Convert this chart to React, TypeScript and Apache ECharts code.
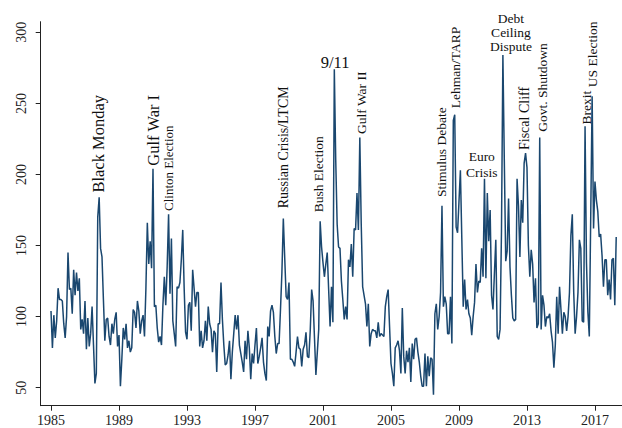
import React, { useEffect, useRef } from "react";
import * as echarts from "echarts";

// Monthly index values, January to December
const v1985 = [104, 78, 101, 85, 97, 120, 112, 112, 111, 95, 85, 100];
const v1986 = [145, 119, 120, 102, 133, 115, 131, 118, 127, 91, 98, 88];
const v1987 = [111, 77, 99, 79, 88, 107, 80, 53, 60, 170, 184, 148];
const v1988 = [142, 112, 83, 98, 99, 86, 80, 95, 88, 98, 103, 79];
const v1989 = [87, 51, 70, 92, 84, 95, 78, 83, 75, 78, 105, 103];
const v1990 = [92, 111, 104, 88, 97, 101, 86, 120, 166, 137, 153, 134];
const v1991 = [204, 107, 108, 92, 82, 86, 80, 108, 128, 108, 135, 172];
const v1992 = [116, 155, 97, 88, 79, 121, 120, 124, 140, 161, 120, 89];
const v1993 = [84, 108, 110, 90, 133, 120, 107, 117, 117, 79, 90, 78];
const v1994 = [83, 97, 83, 107, 95, 91, 75, 90, 88, 61, 95, 95];
const v1995 = [124, 98, 80, 66, 67, 73, 83, 56, 75, 88, 101, 91];
const v1996 = [101, 80, 74, 68, 61, 83, 70, 90, 78, 56, 74, 67];
const v1997 = [80, 92, 67, 72, 78, 85, 68, 60, 55, 93, 86, 104];
const v1998 = [108, 103, 86, 74, 81, 81, 105, 131, 169, 141, 114, 112];
const v1999 = [124, 70, 70, 68, 65, 75, 86, 78, 77, 65, 77, 80];
const v2000 = [89, 72, 71, 90, 119, 111, 85, 59, 75, 91, 167, 149];
const v2001 = [138, 128, 137, 145, 119, 93, 121, 96, 274, 210, 165, 149];
const v2002 = [148, 125, 112, 98, 107, 98, 140, 135, 151, 128, 162, 161];
const v2003 = [187, 161, 226, 165, 121, 115, 109, 93, 109, 79, 88, 91];
const v2004 = [90, 90, 85, 96, 86, 88, 87, 86, 107, 114, 119, 93];
const v2005 = [67, 60, 51, 78, 80, 83, 76, 60, 106, 72, 60, 76];
const v2006 = [68, 78, 54, 81, 70, 84, 85, 75, 68, 58, 51, 51];
const v2007 = [74, 51, 72, 58, 71, 70, 45, 102, 109, 91, 100, 117];
const v2008 = [178, 107, 114, 109, 88, 88, 114, 81, 238, 242, 163, 159];
const v2009 = [181, 203, 155, 107, 126, 105, 112, 102, 99, 87, 100, 110];
const v2010 = [137, 117, 125, 124, 148, 128, 197, 127, 187, 153, 175, 115];
const v2011 = [105, 130, 154, 86, 84, 91, 160, 284, 210, 139, 146, 183];
const v2012 = [135, 115, 99, 97, 98, 197, 178, 142, 182, 166, 208, 215];
const v2013 = [205, 150, 128, 147, 137, 110, 127, 92, 95, 226, 91, 115];
const v2014 = [108, 93, 100, 99, 102, 90, 82, 64, 80, 114, 88, 121];
const v2015 = [105, 88, 103, 100, 90, 100, 117, 157, 172, 117, 88, 100];
const v2016 = [117, 154, 148, 97, 96, 234, 138, 103, 86, 170, 255, 162];
const v2017 = [195, 182, 174, 156, 158, 143, 121, 140, 140, 115, 126, 112];
const v2018 = [140, 141, 108, 156];

const yearlyValues = [
  v1985, v1986, v1987, v1988, v1989, v1990, v1991, v1992, v1993, v1994,
  v1995, v1996, v1997, v1998, v1999, v2000, v2001, v2002, v2003, v2004,
  v2005, v2006, v2007, v2008, v2009, v2010, v2011, v2012, v2013, v2014,
  v2015, v2016, v2017, v2018,
];
const firstYear = 1985;

const xTickYears = [1985, 1989, 1993, 1997, 2001, 2005, 2009, 2013, 2017];
const yTickValues = [50, 100, 150, 200, 250, 300];

// Event annotations: text, anchor (year, index level), vertical or not, font size
const eventTexts = [
  "Black Monday", "Gulf War I", "Clinton Election", "Russian Crisis/LTCM",
  "Bush Election", "9/11", "Gulf War II", "Stimulus Debate", "Lehman/TARP",
  "Euro\nCrisis", "Debt\nCeiling\nDispute", "Fiscal Cliff", "Govt. Shutdown",
  "Brexit", "US Election",
];
const eventYears = [
  1987.82, 1991.02, 1991.9, 1998.66, 2000.72, 2001.71, 2003.24, 2007.98,
  2008.8, 2010.34, 2012.06, 2012.88, 2013.92, 2016.48, 2016.86,
];
const eventLevels = [
  187.3, 206.2, 174.3, 176.2, 173.4, 278.9, 228.5, 184.2,
  246.6, 206.9, 299.7, 217.2, 230.1, 235.1, 261.4,
];
const eventVertical = [
  true, true, true, true, true, false, true, true,
  true, false, false, true, true, true, true,
];
const eventFontSizes = [
  16.5, 16.5, 13, 14, 13.5, 16.5, 13.5, 13.5,
  13.5, 13.5, 13.5, 14, 13.5, 13.5, 13.5,
];

const FONT = '"Liberation Serif", "Times New Roman", serif';
const LINE_COLOR = "#1a476f";
const AXIS_COLOR = "#222";

export default function App() {
  const ref = useRef<HTMLDivElement>(null);

  useEffect(() => {
    if (!ref.current) return;
    const chart = echarts.init(ref.current, undefined, { renderer: "svg" });

    const seriesData: number[][] = [];
    yearlyValues.forEach((arr, yi) => {
      arr.forEach((v, mi) => {
        seriesData.push([firstYear + yi + mi / 12, v]);
      });
    });

    chart.setOption({
      animation: false,
      backgroundColor: "#fff",
      grid: {
        left: 40.7,
        right: 0,
        top: 21.7,
        bottom: 22.3,
        containLabel: false,
        outerBoundsMode: "none",
      },
      xAxis: {
        type: "value",
        min: 1984.394,
        max: 2018.59,
        axisLine: { show: true, onZero: false, lineStyle: { color: AXIS_COLOR, width: 1 } },
        axisTick: {
          show: true,
          length: 5,
          customValues: xTickYears,
          lineStyle: { color: AXIS_COLOR, width: 1 },
        },
        axisLabel: {
          show: true,
          customValues: xTickYears,
          margin: 8,
          fontFamily: FONT,
          fontSize: 14,
          color: AXIS_COLOR,
          formatter: (v: number) => String(Math.round(v)),
        },
        splitLine: { show: false },
      },
      yAxis: {
        type: "value",
        min: 37.3,
        max: 307.5,
        axisLine: { show: true, onZero: false, lineStyle: { color: AXIS_COLOR, width: 1 } },
        axisTick: {
          show: true,
          length: 5,
          customValues: yTickValues,
          lineStyle: { color: AXIS_COLOR, width: 1 },
        },
        axisLabel: {
          show: true,
          customValues: yTickValues,
          rotate: 90,
          margin: 12,
          fontFamily: FONT,
          fontSize: 14,
          color: AXIS_COLOR,
        },
        splitLine: { show: false },
      },
      series: [
        {
          type: "line",
          data: seriesData,
          showSymbol: false,
          symbol: "none",
          lineStyle: { color: LINE_COLOR, width: 1.5 },
          itemStyle: { color: LINE_COLOR },
        },
      ],
    });

    const graphics = eventTexts.map((text, i) => {
      const p = chart.convertToPixel({ gridIndex: 0 }, [eventYears[i], eventLevels[i]]) as number[];
      const vertical = eventVertical[i];
      const lines = text.split("\n").length;
      const fs = eventFontSizes[i];
      return {
        type: "text",
        x: p[0],
        y: p[1],
        rotation: vertical ? Math.PI / 2 : 0,
        silent: true,
        style: {
          text,
          fontFamily: FONT,
          fontSize: fs,
          fill: "#111",
          lineHeight: lines === 3 ? 14.2 : 16,
          align: vertical ? "left" : "center",
          textAlign: vertical ? "left" : "center",
          verticalAlign: "middle",
          textVerticalAlign: "middle",
        },
      };
    });
    chart.setOption({ graphic: graphics });

    return () => chart.dispose();
  }, []);

  return (
    <div
      ref={ref}
      style={{ position: "absolute", left: 0, top: 0, width: 622, height: 428, background: "#fff" }}
    />
  );
}
